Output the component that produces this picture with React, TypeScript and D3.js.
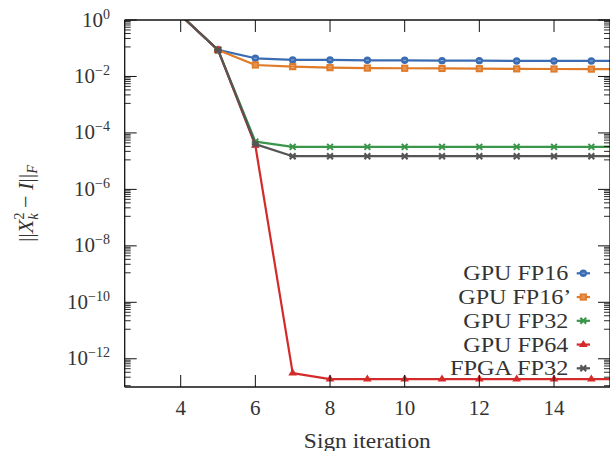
import React from "react";
import * as d3 from "d3";

const iterations = [4, 5, 6, 7, 8, 9, 10, 11, 12, 13, 14, 15, 16];
const gpuFP16 = [1.48, 0.087, 0.044, 0.0384, 0.0384, 0.0374, 0.0374, 0.0363, 0.0363, 0.0354, 0.0354, 0.0354, 0.0354];
const gpuFP16p = [1.48, 0.087, 0.0255, 0.0223, 0.0205, 0.0198, 0.0195, 0.0192, 0.0189, 0.0186, 0.0184, 0.0182, 0.018];
const gpuFP32 = [1.48, 0.087, 4.9e-5, 3.2e-5, 3.2e-5, 3.2e-5, 3.2e-5, 3.2e-5, 3.2e-5, 3.2e-5, 3.2e-5, 3.2e-5, 3.2e-5];
const gpuFP64 = [1.48, 0.087, 3.6e-5, 3.1e-13, 1.9e-13, 1.9e-13, 1.9e-13, 1.9e-13, 1.9e-13, 1.9e-13, 1.9e-13, 1.9e-13, 1.9e-13];
const fpgaFP32 = [1.48, 0.087, 4.0e-5, 1.5e-5, 1.5e-5, 1.5e-5, 1.5e-5, 1.5e-5, 1.5e-5, 1.5e-5, 1.5e-5, 1.5e-5, 1.5e-5];

const seriesNames = ["GPU FP16", "GPU FP16\u2019", "GPU FP32", "GPU FP64", "FPGA FP32"];
const seriesColors = ["#3a6cb4", "#e07b2a", "#3a964a", "#d42a2a", "#555555"];
const seriesMarkers = ["circle", "square", "cross", "triangle", "star"];
const seriesValues = [gpuFP16, gpuFP16p, gpuFP32, gpuFP64, fpgaFP32];

const xTicks = [4, 6, 8, 10, 12, 14];
const yTickExps = [0, -2, -4, -6, -8, -10, -12];

const legendLeft = [463.3, 458.3, 463.3, 463.3, 450];
const legendWidth = [105, 113, 105, 105, 118.3];

const FONT = "'Liberation Serif', 'Times New Roman', serif";
const TXT = "#333";

function Marker({ kind, cx, cy, color }: { kind: string; cx: number; cy: number; color: string }) {
  if (kind === "circle") {
    return (
      <g>
        <circle cx={cx} cy={cy} r={3.7} fill={color} />
        <line x1={cx - 1.6} x2={cx + 1.6} y1={cy} y2={cy} stroke="#fff" strokeOpacity={0.45} strokeWidth={1} />
      </g>
    );
  }
  if (kind === "square") {
    return (
      <g>
        <rect x={cx - 3.6} y={cy - 3.6} width={7.2} height={7.2} fill={color} />
        <line x1={cx - 1.8} x2={cx + 1.8} y1={cy - 1} y2={cy - 1} stroke="#fff" strokeOpacity={0.45} strokeWidth={0.8} />
        <line x1={cx - 1.8} x2={cx + 1.8} y1={cy + 1} y2={cy + 1} stroke="#fff" strokeOpacity={0.45} strokeWidth={0.8} />
      </g>
    );
  }
  if (kind === "triangle") {
    const h = 7;
    const w = 8.7;
    const pts = [
      [cx, cy - (2 * h) / 3],
      [cx - w / 2, cy + h / 3],
      [cx + w / 2, cy + h / 3],
    ];
    return <polygon points={pts.map((p) => p.join(",")).join(" ")} fill={color} />;
  }
  const a = 3.6;
  return (
    <g stroke={color} strokeWidth={2} strokeLinecap="butt">
      <line x1={cx - a} x2={cx + a} y1={cy} y2={cy} />
      <line x1={cx - a * 0.8} x2={cx + a * 0.8} y1={cy - 3} y2={cy + 3} />
      <line x1={cx - a * 0.8} x2={cx + a * 0.8} y1={cy + 3} y2={cy - 3} />
    </g>
  );
}

export default function App() {
  const W = 610;
  const H = 451;
  const left = 124.7;
  const right = 610;
  const top = 20;
  const bottom = 387;

  const x = d3.scaleLinear().domain([2.5, 15.5]).range([left, right]);
  const y = d3.scaleLog().domain([1e-13, 1]).range([bottom, top]);

  const line = d3
    .line<[number, number]>()
    .x((d) => x(d[0]))
    .y((d) => y(d[1]));

  const minorVals: number[] = [];
  yTickExps.forEach((k) => {
    for (let j = 1; j <= 8; j++) minorVals.push(Math.pow(10, k) * (1 - j / 9));
  });

  const axisColor = "#111";

  return (
    <svg width={W} height={H} style={{ position: "absolute", left: 0, top: 0, background: "#fff" }}>
      <defs>
        <clipPath id="plotClip">
          <rect x={left} y={top} width={right - left} height={bottom - top} />
        </clipPath>
      </defs>

      <g clipPath="url(#plotClip)">
        {seriesValues.map((vals, si) => {
          const pts: [number, number][] = iterations.map((it, i) => [it, vals[i]]);
          return (
            <g key={si}>
              <path d={line(pts) || ""} fill="none" stroke={seriesColors[si]} strokeWidth={2.2} strokeLinejoin="round" />
              {pts.map((p, i) => (
                <Marker key={i} kind={seriesMarkers[si]} cx={x(p[0])} cy={y(p[1])} color={seriesColors[si]} />
              ))}
            </g>
          );
        })}
      </g>

      <g stroke={axisColor} strokeWidth={1.3} fill="none">
        <line x1={left} x2={right} y1={top} y2={top} />
        <line x1={left} x2={right} y1={bottom} y2={bottom} />
        <line x1={left} x2={left} y1={top} y2={bottom} />
        <line x1={right} x2={right} y1={top} y2={bottom} />
      </g>

      <g stroke={axisColor} strokeWidth={1}>
        {xTicks.map((t) => (
          <g key={t}>
            <line x1={x(t)} x2={x(t)} y1={bottom} y2={bottom - 12} />
            <line x1={x(t)} x2={x(t)} y1={top} y2={top + 12} />
          </g>
        ))}
      </g>
      <g fontFamily={FONT} fontSize={21} fill={TXT} textAnchor="middle">
        {xTicks.map((t) => (
          <text key={t} x={x(t)} y={415}>
            {t}
          </text>
        ))}
      </g>

      <g stroke={axisColor} strokeWidth={1}>
        {yTickExps.map((k) => {
          const yy = y(Math.pow(10, k));
          return (
            <g key={k}>
              <line x1={left} x2={left + 12} y1={yy} y2={yy} />
              <line x1={right} x2={right - 12} y1={yy} y2={yy} />
            </g>
          );
        })}
        {minorVals.map((v, i) => {
          const yy = y(v);
          return (
            <g key={i}>
              <line x1={left} x2={left + 6} y1={yy} y2={yy} strokeWidth={0.9} />
              <line x1={right} x2={right - 6} y1={yy} y2={yy} strokeWidth={0.9} />
            </g>
          );
        })}
      </g>
      <g fontFamily={FONT} fill={TXT} textAnchor="end">
        {yTickExps.map((k) => {
          const yy = y(Math.pow(10, k));
          return (
            <text key={k} x={110} y={yy + 6.5} fontSize={21}>
              10
              <tspan fontSize={14} dy={-8}>
                {k === 0 ? "0" : "\u2212" + Math.abs(k)}
              </tspan>
            </text>
          );
        })}
      </g>

      <text
        x={(left + right) / 2}
        y={447.5}
        fontFamily={FONT}
        fontSize={21}
        fill={TXT}
        textAnchor="middle"
        textLength={127}
        lengthAdjust="spacingAndGlyphs"
      >
        Sign iteration
      </text>
      <text
        transform={`translate(33, ${(top + bottom) / 2}) rotate(-90)`}
        fontFamily={FONT}
        fontSize={22}
        fill={TXT}
        textAnchor="middle"
      >
        ||<tspan fontStyle="italic">X</tspan>
        <tspan fontSize={14.5} dy={-9}>2</tspan>
        <tspan fontSize={14.5} fontStyle="italic" dx={-7.3} dy={14}>k</tspan>
        <tspan dy={-5}> {"\u2212"} </tspan>
        <tspan fontStyle="italic">I</tspan>||
        <tspan fontSize={14.5} fontStyle="italic" dy={4}>F</tspan>
      </text>

      <g fontFamily={FONT} fontSize={21} fill={TXT}>
        {seriesNames.map((name, i) => {
          const cy = 273.3 + i * 23.75;
          return (
            <g key={name}>
              <text x={legendLeft[i]} y={cy + 7} textLength={legendWidth[i]} lengthAdjust="spacingAndGlyphs">
                {name}
              </text>
              <line x1={576.7} x2={590} y1={cy} y2={cy} stroke={seriesColors[i]} strokeWidth={2.2} />
              <Marker kind={seriesMarkers[i]} cx={583.3} cy={cy} color={seriesColors[i]} />
            </g>
          );
        })}
      </g>
    </svg>
  );
}
